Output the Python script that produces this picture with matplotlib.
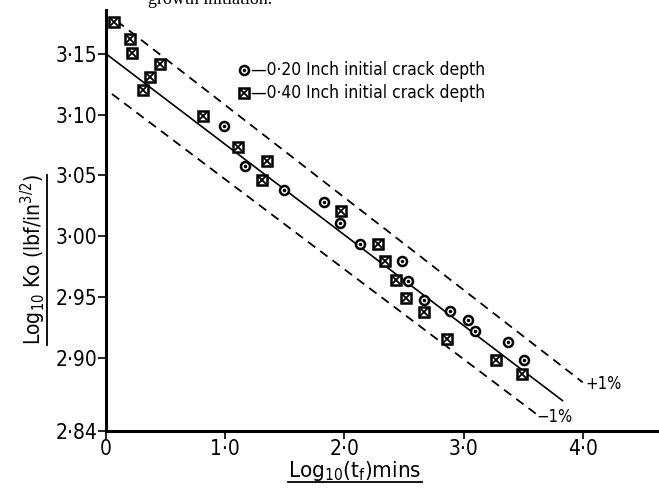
import numpy as np
import matplotlib
matplotlib.use("Agg")
import matplotlib.pyplot as plt
from matplotlib.lines import Line2D
from matplotlib.transforms import IdentityTransform

plt.rcParams['font.family'] = ['Liberation Sans Narrow', 'DejaVu Sans']
plt.rcParams['font.stretch'] = 'condensed'
plt.rcParams['mathtext.default'] = 'regular'

# 0.20 inch initial crack depth (circles)
x_020 = [0.99, 1.17, 1.49, 1.83, 1.96, 2.13, 2.48, 2.53, 2.67, 2.89, 3.04, 3.10, 3.37, 3.51]
y_020 = [3.091, 3.058, 3.038, 3.028, 3.011, 2.994, 2.980, 2.963, 2.948, 2.939, 2.931, 2.922, 2.913, 2.898]

# 0.40 inch initial crack depth (crossed squares)
x_040 = [0.07, 0.20, 0.22, 0.45, 0.37, 0.31, 0.81, 1.11, 1.35, 1.31, 1.97, 2.28, 2.34, 2.43,
         2.52, 2.67, 2.86, 3.27, 3.49]
y_040 = [3.176, 3.162, 3.151, 3.142, 3.131, 3.120, 3.099, 3.073, 3.062, 3.046, 3.021, 2.994,
         2.980, 2.964, 2.949, 2.938, 2.916, 2.898, 2.887]

# mean line and +/-1% bands (end points)
fit_x = [0.0, 3.83]
fit_y = [3.15, 2.865]
upper_x = [0.09, 4.0]
upper_y = [3.177, 2.880]
lower_x = [0.05, 3.61]
lower_y = [3.117, 2.854]

xticks = [0, 1, 2, 3, 4]
xticklabels = ['0', '1·0', '2·0', '3·0', '4·0']
yticks = [2.84, 2.90, 2.95, 3.00, 3.05, 3.10, 3.15]
yticklabels = ['2·84', '2·90', '2·95', '3·00', '3·05', '3·10', '3·15']

W, H = 659, 488
fig = plt.figure(figsize=(W / 100, H / 100), dpi=100)
ax = fig.add_axes([106 / W, 57 / H, 553 / W, 421 / H])

ax.plot(fit_x, fit_y, color='k', lw=1.2)
ax.plot(upper_x, upper_y, color='k', lw=1.3, ls=(0, (5, 3.5)))
ax.plot(lower_x, lower_y, color='k', lw=1.3, ls=(0, (5, 3.5)))

ax.plot(x_020, y_020, 'o', mfc='white', mec='k', ms=6.5, mew=1.8, ls='none')
ax.plot(x_020, y_020, '.', color='k', ms=3, ls='none')
ax.plot(x_040, y_040, 's', mfc='white', mec='k', ms=7.5, mew=1.8, ls='none')
ax.plot(x_040, y_040, 'x', color='k', ms=5.5, mew=1.3, ls='none')

ax.annotate('+1%', (upper_x[-1], upper_y[-1]), xytext=(2, -1), textcoords='offset points',
            ha='left', va='center', fontsize=12)
ax.annotate('−1%', (lower_x[-1], lower_y[-1]), xytext=(0, -2), textcoords='offset points',
            ha='left', va='center', fontsize=12)

# legend drawn by hand
for yy, kind, lab in [(0.8575, 'o', '—0·20 Inch initial crack depth'),
                      (0.803, 's', '—0·40 Inch initial crack depth')]:
    if kind == 'o':
        ax.plot([0.2495], [yy], 'o', mfc='white', mec='k', ms=6.5, mew=1.8, transform=ax.transAxes)
        ax.plot([0.2495], [yy], '.', color='k', ms=3, transform=ax.transAxes)
    else:
        ax.plot([0.2495], [yy], 's', mfc='white', mec='k', ms=7.5, mew=1.8, transform=ax.transAxes)
        ax.plot([0.2495], [yy], 'x', color='k', ms=5.5, mew=1.3, transform=ax.transAxes)
    ax.text(0.262, yy, lab, transform=ax.transAxes, ha='left', va='center', fontsize=12.5)

ax.set_xlim(0, 4.64)
ax.set_ylim(2.84, 3.186)
ax.set_xticks(xticks)
ax.set_xticklabels(xticklabels)
ax.set_yticks(yticks)
ax.set_yticklabels(yticklabels)
ax.tick_params(axis='both', direction='out', length=6, width=1.2, labelsize=15, pad=0)
for s in ['top', 'right']:
    ax.spines[s].set_visible(False)
for s in ['left', 'bottom']:
    ax.spines[s].set_linewidth(2.2)

ylab = fig.text(33 / W, (H - 260) / H, r'Log$_{10}$ Ko (lbf/in$^{3/2}$)', rotation=90,
                ha='center', va='center', fontsize=15)
xlab = fig.text(355 / W, (H - 477) / H, r'Log$_{10}$(t$_f$)mins', ha='center', va='baseline',
                fontsize=16)
fig.text(148 / W, (H - 4) / H, 'growth initiation.', family=['Liberation Serif', 'DejaVu Serif'],
         fontsize=13, ha='left', va='baseline')

# underline the axis titles
fig.canvas.draw()
bb = xlab.get_window_extent()
fig.add_artist(Line2D([bb.x0, bb.x1], [bb.y0 + 1, bb.y0 + 1], color='k', lw=1.3,
                      transform=IdentityTransform()))
bb = ylab.get_window_extent()
fig.add_artist(Line2D([bb.x1 - 1, bb.x1 - 1], [bb.y0, bb.y1], color='k', lw=1.3,
                      transform=IdentityTransform()))

fig.savefig('out.png', dpi=100)
